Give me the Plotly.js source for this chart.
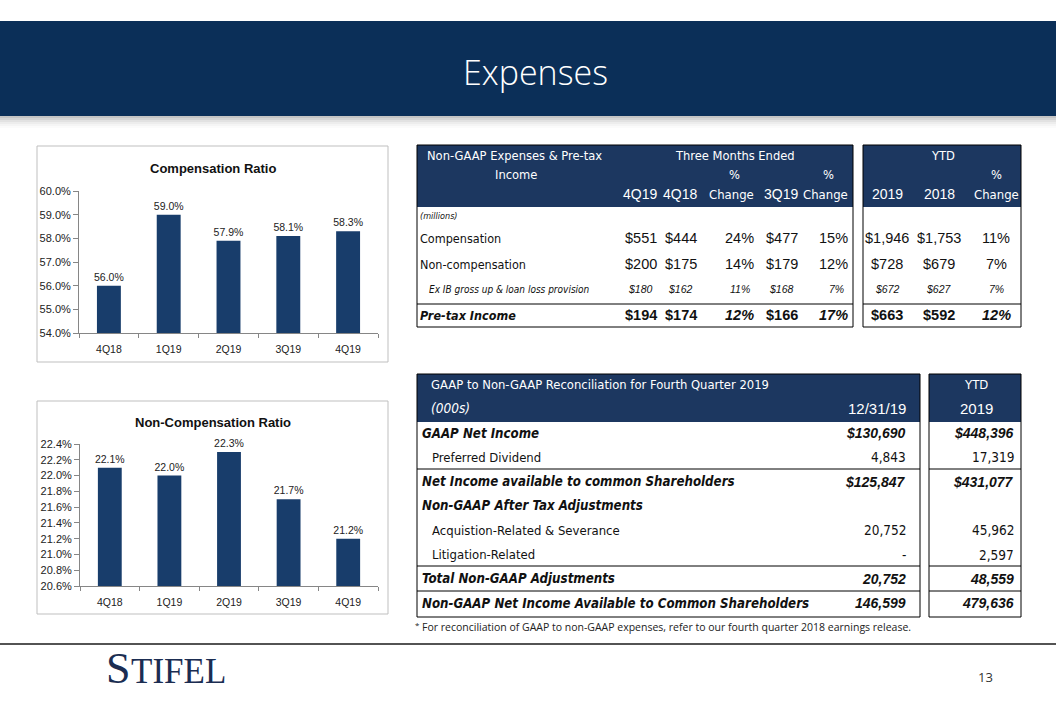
<!DOCTYPE html>
<html><head><meta charset="utf-8">
<script src="https://cdn.plot.ly/plotly-3.0.1.min.js"></script>
<style>html,body{margin:0;padding:0;background:#fff;overflow:hidden}#chart{width:1056px;height:704px}</style>
</head><body><div id="chart"></div>
<script>
// ---------- DATA ----------
const quarters = ['4Q18', '1Q19', '2Q19', '3Q19', '4Q19'];
const compRatio = [56.0, 59.0, 57.9, 58.1, 58.3];
const nonCompRatio = [22.1, 22.0, 22.3, 21.7, 21.2];

const t1Title = ['Non-GAAP Expenses & Pre-tax', 'Income'];
const t1QuarterHeaders = ['4Q19', '4Q18', 'Change', '3Q19', 'Change'];
const t1YtdHeaders = ['2019', '2018', 'Change'];
const t1Rows = ['(millions)', 'Compensation', 'Non-compensation', 'Ex IB gross up & loan loss provision', 'Pre-tax Income'];
const t1Q4Q19 = ['', '$551', '$200', '$180', '$194'];
const t1Q4Q18 = ['', '$444', '$175', '$162', '$174'];
const t1ChgYoY = ['', '24%', '14%', '11%', '12%'];
const t1Q3Q19 = ['', '$477', '$179', '$168', '$166'];
const t1ChgQoQ = ['', '15%', '12%', '7%', '17%'];
const t1Ytd2019 = ['', '$1,946', '$728', '$672', '$663'];
const t1Ytd2018 = ['', '$1,753', '$679', '$627', '$592'];
const t1YtdChg = ['', '11%', '7%', '7%', '12%'];

const t2Title = 'GAAP to Non-GAAP Reconciliation for Fourth Quarter 2019';
const t2Unit = '(000s)';
const t2QuarterHeader = '12/31/19';
const t2YtdHeader = ['YTD', '2019'];
const t2Rows = ['GAAP Net Income', 'Preferred Dividend', 'Net Income available to common Shareholders',
  'Non-GAAP After Tax Adjustments', 'Acquistion-Related & Severance', 'Litigation-Related',
  'Total Non-GAAP Adjustments', 'Non-GAAP Net Income Available to Common Shareholders'];
const t2Quarter = ['$130,690', '4,843', '$125,847', '', '20,752', '-', '20,752', '146,599'];
const t2Ytd = ['$448,396', '17,319', '$431,077', '', '45,962', '2,597', '48,559', '479,636'];

const footnote = 'For reconciliation of GAAP to non-GAAP expenses, refer to our fourth quarter 2018 earnings release.';

// ---------- STYLE / LAYOUT CONSTANTS ----------
const W = 1056, H = 704;
const NAVY = '#0B2F58', THEAD = '#1C3760', BAR = '#183D6B';
const FN = "'DejaVu Sans Condensed', 'Liberation Sans Narrow', 'Arial Narrow', sans-serif";
const FA = "'Liberation Sans', Arial, sans-serif";
const px = x => x / W, py = y => 1 - y / H;

const shapes = [], ann = [];
function rect(x0, y0, x1, y1, fill, lc, lw) {
  shapes.push({type: 'rect', xref: 'paper', yref: 'paper', x0: px(x0), x1: px(x1), y0: py(y1), y1: py(y0),
    fillcolor: fill || 'rgba(0,0,0,0)', line: {color: lc || 'rgba(0,0,0,0)', width: lw || 0}, layer: 'above'});
}
function hline(x0, x1, y, c, w) {
  shapes.push({type: 'line', xref: 'paper', yref: 'paper', x0: px(x0), x1: px(x1), y0: py(y), y1: py(y),
    line: {color: c, width: w}, layer: 'above'});
}
function txt(x, y, s, anchor, font, ya) {
  ann.push({xref: 'paper', yref: 'paper', x: px(x), y: py(y), text: s, showarrow: false,
    xanchor: anchor, yanchor: ya || 'middle', borderpad: 0, font: font});
}

// Banner
rect(0, 21, W, 116, NAVY);
const shadowOp = [0.30, 0.22, 0.15, 0.09, 0.05, 0.02];
shadowOp.forEach((o, i) => rect(0, 116 + i * 2, W, 118 + i * 2, 'rgba(60,60,60,' + o + ')'));
txt(535, 72, 'Expenses', 'center', {family: "'Open Sans', sans-serif", size: 34, color: '#ffffff', weight: 300});

// Chart boxes and titles
rect(37, 146, 388, 362, null, '#BFBFBF', 1);
rect(37, 401, 388, 614, null, '#BFBFBF', 1);
txt(213, 168, '<b>Compensation Ratio</b>', 'center', {family: FA, size: 13, color: '#111'});
txt(213, 422, '<b>Non-Compensation Ratio</b>', 'center', {family: FA, size: 13, color: '#111'});

// ---------- TABLE 1 ----------
const T1 = {l: 417, r: 853, yl: 863, yr: 1021, top: 145, hb: 207, bot: 327, sep: 304};
rect(T1.l, T1.top, T1.r, T1.hb, THEAD);
rect(T1.yl, T1.top, T1.yr, T1.hb, THEAD);
rect(T1.l, T1.top, T1.r, T1.bot, null, '#000', 1);
rect(T1.yl, T1.top, T1.yr, T1.bot, null, '#000', 1);
hline(T1.l, T1.r, T1.sep, '#000', 1);
hline(T1.yl, T1.yr, T1.sep, '#000', 1);
const WH = {family: FN, size: 12.8, color: '#ffffff'};
txt(514, 155, t1Title[0], 'center', WH);
txt(516, 175, t1Title[1], 'center', WH);
txt(735, 155, 'Three Months Ended', 'center', WH);
txt(943, 155, 'YTD', 'center', WH);
const T1_Q_RIGHT = [658, 698, 755, 799, 849];
const T1_Y_CENTER = [887, 939, 996];
[2, 4].forEach(i => txt(T1_Q_RIGHT[i] - 21, 175, '%', 'center', WH));
txt(T1_Y_CENTER[2], 175, '%', 'center', WH);
const HNUM = {family: FA, size: 14, color: '#fff'};
const HCHG = {family: FN, size: 13, color: '#fff'};
t1QuarterHeaders.forEach((h, i) => txt(T1_Q_RIGHT[i], 194, h, 'right', h === 'Change' ? HCHG : HNUM));
t1YtdHeaders.forEach((h, i) => txt(T1_Y_CENTER[i], 194, h, 'center', h === 'Change' ? HCHG : HNUM));

const T1_ROW_Y = [216, 238, 264, 289, 315];
const t1Kind = ['note', 'plain', 'plain', 'sub', 'total'];
t1Rows.forEach((r, i) => {
  const k = t1Kind[i];
  if (k === 'note') txt(419, T1_ROW_Y[i], '<i>' + r + '</i>', 'left', {family: FN, size: 9, color: '#111'});
  else if (k === 'plain') txt(419, T1_ROW_Y[i], r, 'left', {family: FN, size: 12.5, color: '#111'});
  else if (k === 'sub') txt(428, T1_ROW_Y[i], '<i>' + r + '</i>', 'left', {family: FN, size: 10, color: '#111'});
  else txt(419, T1_ROW_Y[i], '<b><i>' + r + '</i></b>', 'left', {family: FN, size: 12.5, color: '#111'});
});
function t1Val(v, k) {
  const pct = v.indexOf('%') >= 0;
  if (k === 'plain') return {s: v, f: {family: FA, size: 14.5, color: '#111'}};
  if (k === 'sub') return {s: '<i>' + v + '</i>', f: {family: FA, size: 10.5, color: '#111'}};
  return {s: pct ? '<b><i>' + v + '</i></b>' : '<b>' + v + '</b>', f: {family: FA, size: 14.5, color: '#111'}};
}
const t1ColsQ = [t1Q4Q19, t1Q4Q18, t1ChgYoY, t1Q3Q19, t1ChgQoQ];
const t1ColsY = [t1Ytd2019, t1Ytd2018, t1YtdChg];
t1ColsQ.forEach((col, c) => col.forEach((v, i) => {
  if (!v) return;
  const o = t1Val(v, t1Kind[i]);
  txt(T1_Q_RIGHT[c] - (t1Kind[i] === 'sub' ? 4 : 0), T1_ROW_Y[i], o.s, 'right', o.f);
}));
t1ColsY.forEach((col, c) => col.forEach((v, i) => {
  if (!v) return;
  const o = t1Val(v, t1Kind[i]);
  txt(T1_Y_CENTER[c], T1_ROW_Y[i], o.s, 'center', o.f);
}));

// ---------- TABLE 2 ----------
const T2 = {l: 417, r: 920, yl: 929, yr: 1021, top: 374, hb: 422, bot: 617};
rect(T2.l, T2.top, T2.r, T2.hb, THEAD);
rect(T2.yl, T2.top, T2.yr, T2.hb, THEAD);
rect(T2.l, T2.top, T2.r, T2.bot, null, '#000', 1);
rect(T2.yl, T2.top, T2.yr, T2.bot, null, '#000', 1);
[469, 566, 591].forEach(y => { hline(T2.l, T2.r, y, '#000', 1); hline(T2.yl, T2.yr, y, '#000', 1); });
txt(430, 384, t2Title, 'left', {family: FN, size: 12.9, color: '#fff'});
txt(430, 408, '<i>' + t2Unit + '</i>', 'left', {family: FN, size: 13.5, color: '#fff'});
txt(907, 408, t2QuarterHeader, 'right', {family: FA, size: 15, color: '#fff'});
txt(976, 384, t2YtdHeader[0], 'center', {family: FN, size: 13, color: '#fff'});
txt(976, 408, t2YtdHeader[1], 'center', {family: FA, size: 15, color: '#fff'});
const t2Bold = [true, false, true, true, false, false, true, true];
t2Rows.forEach((r, i) => {
  const y = 433 + 24.3 * i;
  if (t2Bold[i]) txt(421, y, '<b><i>' + r + '</i></b>', 'left', {family: FN, size: 13.2, color: '#111'});
  else txt(431, y, r, 'left', {family: FN, size: 13, color: '#111'});
  [[t2Quarter, 907], [t2Ytd, 1015]].forEach(([col, xr]) => {
    const v = col[i];
    if (!v) return;
    if (t2Bold[i]) txt(xr, y, '<b><i>' + v + '</i></b>', 'right', {family: FA, size: 14, color: '#111'});
    else txt(xr, y, v, 'right', {family: FN, size: 13.5, color: '#111'});
  });
});

// Footer
txt(414, 624, '*', 'left', {family: "'Open Sans', sans-serif", size: 8, color: '#222'});
txt(421, 627, footnote, 'left', {family: "'Open Sans', sans-serif", size: 10.5, color: '#222'});
hline(0, W, 644, '#1a1a1a', 1.3);
const SERIF = "'Liberation Serif', 'DejaVu Serif', serif";
txt(105, 668, 'S', 'left', {family: SERIF, size: 44, color: '#1B2D52'});
txt(130, 671, 'TIFEL', 'left', {family: SERIF, size: 35, color: '#1B2D52'});
txt(985, 677, '13', 'center', {family: "'Open Sans', sans-serif", size: 13, color: '#333'});

// ---------- CHARTS ----------
const tickFont = {family: FA, size: 10.5, color: '#222'};
function barTrace(y, xa, ya) {
  return {type: 'bar', x: quarters, y: y, xaxis: xa, yaxis: ya, marker: {color: BAR, line: {width: 0}},
    texttemplate: '%{y:.1f}%', textposition: 'outside', constraintext: 'none', cliponaxis: false,
    textfont: {family: FA, size: 10.5, color: '#222'}, hoverinfo: 'skip', showlegend: false};
}
const xBase = {type: 'category', showline: true, linecolor: '#868686', linewidth: 1, ticks: 'outside',
  tickson: 'boundaries', ticklen: 4, tickcolor: '#868686', tickfont: tickFont, showgrid: false, zeroline: false,
  ticklabelstandoff: 6, fixedrange: true};
const yBase = {showline: true, linecolor: '#868686', linewidth: 1, ticks: 'outside', ticklen: 5, tickcolor: '#868686',
  tickfont: {family: FA, size: 11, color: '#222'}, showgrid: false, zeroline: false, ticksuffix: '%', fixedrange: true};

const layout = {
  width: W, height: H, margin: {l: 0, r: 0, t: 0, b: 0}, paper_bgcolor: '#fff', plot_bgcolor: 'rgba(0,0,0,0)',
  bargap: 0.6, showlegend: false,
  xaxis: Object.assign({}, xBase, {domain: [px(79), px(378)], anchor: 'y'}),
  yaxis: Object.assign({}, yBase, {domain: [py(333), py(191)], anchor: 'x', range: [54, 60], dtick: 1, tickformat: '.1f'}),
  xaxis2: Object.assign({}, xBase, {domain: [px(80), px(378)], anchor: 'y2'}),
  yaxis2: Object.assign({}, yBase, {domain: [py(586), py(444)], anchor: 'x2', range: [20.6, 22.4], dtick: 0.2, tickformat: '.1f'}),
  shapes: shapes, annotations: ann
};
Plotly.newPlot('chart', [barTrace(compRatio, 'x', 'y'), barTrace(nonCompRatio, 'x2', 'y2')], layout,
  {staticPlot: true, displayModeBar: false});
</script></body></html>
